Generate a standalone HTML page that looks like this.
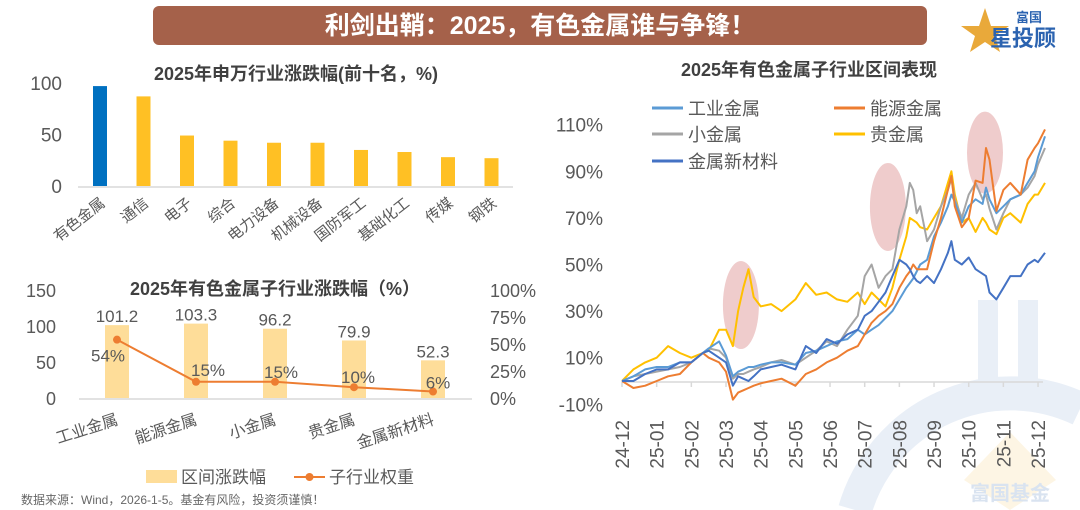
<!DOCTYPE html>
<html><head><meta charset="utf-8">
<style>
html,body{margin:0;background:#fff;overflow:hidden;width:1080px;height:510px;}
svg{display:block;font-family:"Liberation Sans","Noto Sans CJK SC",sans-serif;}
</style></head>
<body>
<svg id="svg" width="1080" height="510" viewBox="0 0 1080 510" overflow="hidden">
  <defs><clipPath id="clipAll"><rect x="0" y="0" width="1080" height="510"/></clipPath></defs>
  <g id="wm" clip-path="url(#clipAll)">
    <path d="M855,510 A162,162 0 0 1 1080,409" fill="none" stroke="#e9eff7" stroke-width="34"/>
    <rect x="978" y="300" width="20" height="110" fill="#e9eff7"/>
    <rect x="1018" y="300" width="20" height="90" fill="#e9eff7"/>
    <polygon points="1010,432 1056,480 1010,510 964,480" fill="#fdf5e4"/>
    <text x="1010" y="500" font-size="20" font-weight="bold" fill="#d9e3f0" text-anchor="middle">富国基金</text>
  </g>
  <rect x="153" y="6" width="774" height="39" rx="6" fill="#a5614a"/>
  <text x="540" y="34" font-size="25" font-weight="bold" fill="#fff" text-anchor="middle">利剑出鞘：2025，有色金属谁与争锋！</text>
  <g>
    <polygon points="985,8 991,26 1009,26 995,36 1000,52 985,42 970,52 975,36 961,26 979,26" fill="#e9a93a"/>
    <text x="1016" y="22" font-size="13" font-weight="bold" fill="#2b63b0">富国</text>
    <text x="990" y="46" font-size="22" font-weight="bold" fill="#2b63b0">星投顾</text>
  </g>
  <g id="c1"></g>
  <g id="c2"></g>
  <g id="c3"></g>
  <text x="21" y="504" font-size="12" fill="#666">数据来源：Wind，2026-1-5。基金有风险，投资须谨慎！</text>
</svg>
<script>
const NS="http://www.w3.org/2000/svg";
function mk(tag,attrs,parent,txt){const e=document.createElementNS(NS,tag);for(const k in attrs)e.setAttribute(k,attrs[k]);if(txt!==undefined)e.textContent=txt;parent.appendChild(e);return e;}

// ---- Chart 1 data ----
const c1Categories=["有色金属","通信","电子","综合","电力设备","机械设备","国防军工","基础化工","传媒","钢铁"];
const c1Values=[97,87,49,44,42,42,35,33,28,27];
const c1Ticks=[0,50,100];

// ---- Chart 2 data ----
const c2Categories=["工业金属","能源金属","小金属","贵金属","金属新材料"];
const c2Returns=[101.2,103.3,96.2,79.9,52.3];
const c2Weights=[54,15,15,10,6];
const c2LeftTicks=[0,50,100,150];
const c2RightTicks=["0%","25%","50%","75%","100%"];

// ---- Chart 3 data (x in months since 2024-12) ----
const c3Months=[0,.33,.67,1,1.33,1.67,2,2.33,2.5,2.8,3,3.2,3.35,3.5,3.65,3.8,4,4.3,4.6,5,5.3,5.6,5.9,6.2,6.5,6.8,7,7.2,7.4,7.6,7.8,8,8.2,8.3,8.4,8.5,8.6,8.8,9,9.2,9.4,9.5,9.6,9.8,10,10.2,10.4,10.5,10.6,10.8,11,11.2,11.5,11.7,11.9,12,12.2];
const seriesIndustrial=[0,2,5,6,6,8,8,12,14,17,11,2,4,5,6,6,7,8,8,7,12,13,15,17,18,22,20,22,24,27,30,35,40,42,44,47,50,52,62,68,75,80,77,68,75,78,76,83,78,72,75,78,80,85,90,96,105];
const seriesEnergy=[0,-3,-2,0,2,3,8,12,10,8,4,-8,-5,-4,-3,-2,-1,0,1,-2,3,5,8,10,13,15,20,25,28,30,33,40,45,47,50,48,48,48,60,70,82,88,75,66,70,86,85,100,95,73,82,85,80,95,100,102,108];
const seriesMinor=[0,2,3,4,5,6,8,12,14,13,10,1,3,3,4,5,6,8,9,7,10,13,17,15,22,28,45,50,40,45,48,65,75,85,82,72,75,60,65,75,82,87,78,70,80,85,78,80,74,65,72,78,80,83,88,93,100];
const seriesPrecious=[0,5,8,10,15,12,10,12,13,22,22,15,30,40,48,36,32,33,30,35,42,37,38,35,34,38,33,38,35,32,40,52,62,70,69,68,66,65,70,75,85,90,80,68,70,64,70,68,65,63,70,72,68,76,80,80,85];
const seriesNewMat=[0,0,3,5,5,8,8,12,13,10,8,-2,2,1,0,2,5,6,7,5,15,12,18,16,20,22,28,30,34,38,45,52,50,48,45,43,42,45,42,48,55,60,52,50,53,48,46,45,38,35,40,45,45,50,52,51,55];
const c3YTicks=[-10,10,30,50,70,90,110];
const c3XTicks=["24-12","25-01","25-02","25-03","25-04","25-05","25-06","25-07","25-08","25-09","25-10","25-11","25-12"];
const c3Names=["工业金属","能源金属","小金属","贵金属","金属新材料"];
const c3Colors=["#5b9bd5","#ed7d31","#a5a5a5","#ffc000","#4472c4"];
const c3HighlightMonths=[3.43,7.67,10.47];
const c3HighlightValues=[32.6,74.7,98];

// ===== Chart 1 =====
(function(){
  const g=document.getElementById('c1');
  const y=v=>186-v*1.03, x=i=>100+i*43.5;
  mk('text',{x:296,y:80,'font-size':18,'font-weight':'bold',fill:'#404040','text-anchor':'middle',},g,'2025年申万行业涨跌幅(前十名，%)');
  c1Ticks.forEach(t=>{const e=mk('text',{x:62,y:y(t)+7,'font-size':19,fill:'#595959','text-anchor':'end'},g,String(t));
    
    });
  c1Values.forEach((v,i)=>{const r=mk('rect',{x:x(i)-7,y:y(v),width:14,height:y(0)-y(v),fill:i===0?'#0070c0':'#ffc024'},g);
    
    });
  mk('line',{x1:78,x2:513,y1:187,y2:187,stroke:'#d9d9d9','stroke-width':1.5,},g);
  c1Categories.forEach((c,i)=>{const t=mk('text',{x:x(i)+6,y:205,'font-size':15,fill:'#595959','text-anchor':'end',transform:`rotate(-38 ${x(i)+6} 205)`},g,c);
    
    });
})();

// ===== Chart 2 =====
(function(){
  const g=document.getElementById('c2');
  const y=v=>398-v*0.72, yr=p=>398-p*1.08, x=i=>117+i*79;
  mk('text',{x:275,y:295,'font-size':18,'font-weight':'bold',fill:'#404040','text-anchor':'middle',},g,'2025年有色金属子行业涨跌幅（%）');
  c2LeftTicks.forEach(t=>{const e=mk('text',{x:56,y:y(t)+7,'font-size':18,fill:'#595959','text-anchor':'end'},g,String(t));
    
    });
  c2RightTicks.forEach((t,i)=>{const e=mk('text',{x:490,y:yr(i*25)+7,'font-size':18,fill:'#595959'},g,t);
    
    });
  c2Returns.forEach((v,i)=>{const r=mk('rect',{x:x(i)-12,y:y(v),width:24,height:y(0)-y(v),fill:'#fedd99'},g);
    
    
    const t=mk('text',{x:x(i),y:y(v)-3,'font-size':17,fill:'#595959','text-anchor':'middle'},g,v.toFixed(1));
    
    });
  mk('line',{x1:79,x2:472,y1:399,y2:399,stroke:'#d9d9d9','stroke-width':1.5,},g);
  const pts=c2Weights.map((w,i)=>x(i)+','+yr(w)).join(' ');
  mk('polyline',{points:pts,fill:'none',stroke:'#ed7d31','stroke-width':2,},g);
  const offs=[[-9,22],[12,-6],[6,-4],[4,-4],[5,-3]];
  c2Weights.forEach((w,i)=>{const c=mk('circle',{cx:x(i),cy:yr(w),r:4,fill:'#ed7d31'},g);
    
    
    const t=mk('text',{x:x(i)+offs[i][0],y:yr(w)+offs[i][1],'font-size':17,fill:'#595959','text-anchor':'middle'},g,w+'%');
    
    });
  c2Categories.forEach((c,i)=>{const t=mk('text',{x:x(i)+2,y:424,'font-size':16,fill:'#595959','text-anchor':'end',transform:`rotate(-18 ${x(i)+2} 424)`},g,c);
    
    });
  mk('rect',{x:146,y:470,width:31,height:13,fill:'#fedd99',},g);
  mk('text',{x:181,y:483,'font-size':17,fill:'#595959',},g,'区间涨跌幅');
  mk('line',{x1:294,x2:325,y1:477,y2:477,stroke:'#ed7d31','stroke-width':2,},g);
  mk('circle',{cx:309.5,cy:477,r:4,fill:'#ed7d31'},g);
  mk('text',{x:329,y:483,'font-size':17,fill:'#595959',},g,'子行业权重');
})();

// ===== Chart 3 =====
(function(){
  const g=document.getElementById('c3');
  const x=m=>622+m*34.67, y=v=>381-v*2.33;
  mk('text',{x:809,y:76,'font-size':18,'font-weight':'bold',fill:'#404040','text-anchor':'middle',},g,'2025年有色金属子行业区间表现');
  c3YTicks.forEach(t=>{const e=mk('text',{x:603,y:y(t)+7,'font-size':19,fill:'#595959','text-anchor':'end'},g,t+'%');
    
    });
  c3HighlightMonths.forEach((m,i)=>{
    const e=mk('ellipse',{cx:x(m),cy:y(c3HighlightValues[i]),rx:18,ry:i===2?41:44,fill:'rgba(214,120,120,0.38)'},g);
    
    });
  mk('line',{x1:622,x2:1043,y1:382,y2:382,stroke:'#d9d9d9','stroke-width':1.5,},g);
  c3XTicks.forEach((t,i)=>{const tk=mk('line',{x1:x(i),x2:x(i),y1:382,y2:387,stroke:'#d9d9d9','stroke-width':1.5},g);
    
    
    const e=mk('text',{x:x(i)+7,y:420,'font-size':19,fill:'#595959','text-anchor':'end',transform:`rotate(-90 ${x(i)+7} 420)`},g,t);
    
    });
  const all=[seriesIndustrial,seriesEnergy,seriesMinor,seriesPrecious,seriesNewMat];
  const order=[3,2,0,1,4];
  order.forEach(s=>{const pts=c3Months.map((m,j)=>x(m).toFixed(1)+','+y(all[s][j]).toFixed(1)).join(' ');
    const p=mk('polyline',{points:pts,fill:'none',stroke:c3Colors[s],'stroke-width':2,'stroke-linejoin':'round'},g);
    
    });
  const lp=[[652,108],[834,108],[652,134],[834,134],[652,161]];
  c3Names.forEach((n,i)=>{const l=mk('line',{x1:lp[i][0],x2:lp[i][0]+31,y1:lp[i][1],y2:lp[i][1],stroke:c3Colors[i],'stroke-width':3},g);
    
    
    const t=mk('text',{x:lp[i][0]+36,y:lp[i][1]+7,'font-size':18,fill:'#595959'},g,n);
    
    });
})();
</script>
</body></html>
